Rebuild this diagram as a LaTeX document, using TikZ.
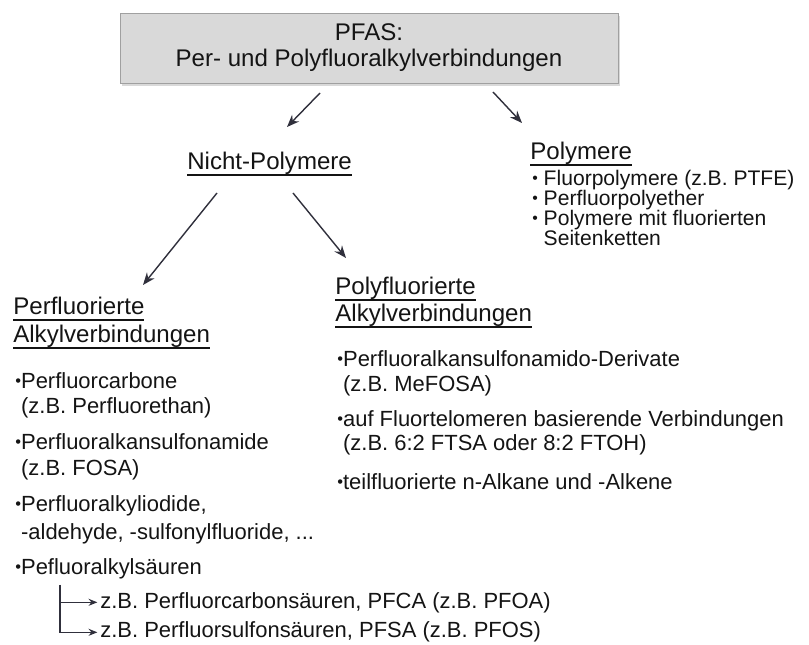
\documentclass[tikz,border=0pt]{standalone}
\usepackage{fontspec}
\setmainfont{Liberation Sans}
\usetikzlibrary{arrows.meta,shadows}
\usepackage{xcolor}

\definecolor{boxgray}{HTML}{D9D9D9}
\definecolor{boxline}{HTML}{A0A0A0}
\definecolor{txt}{HTML}{141414}
\definecolor{pfeilfarbe}{HTML}{30303C}

\newcommand{\ulhead}[1]{\setbox0=\hbox{#1}\rlap{\rule[-3.2pt]{\wd0}{1.1pt}}\box0}
\newcommand{\bul}{\raisebox{0.12em}{\scalebox{0.75}{\textbullet}}}

\begin{document}
\begin{tikzpicture}[x=0.02cm, y=-0.02cm,
    titel/.style={draw=boxline, fill=boxgray, minimum width=9.96cm, minimum height=1.4cm,
        align=center, text=txt, font=\fontsize{13.7}{14.8}\selectfont,
        drop shadow={shadow xshift=1pt, shadow yshift=-1.5pt, opacity=0.3}},
    head/.style={anchor=base west, inner sep=0pt, text=txt, font=\fontsize{13.7}{16}\selectfont},
    item/.style={anchor=base west, inner sep=0pt, text=txt, font=\fontsize{12.5}{15}\selectfont},
    pitem/.style={anchor=base west, inner sep=0pt, text=txt, font=\fontsize{12}{14}\selectfont},
    pfeil/.style={draw=pfeilfarbe, line width=0.8pt, -{Stealth[length=7pt,width=5.5pt]}},
    gabelpfeil/.style={draw=pfeilfarbe, line width=0.7pt, -{Stealth[length=5pt,width=4pt]}, shorten >=1.5pt}]
    \useasboundingbox (0,0) rectangle (809,645);

    % Kopf
    \node[titel] (pfas) at (369,48) {PFAS:\\Per- und Polyfluoralkylverbindungen};

    % Zweite Ebene
    \node[head] (nicht) at (187,170) {\ulhead{Nicht-Polymere}};
    \node[head] (poly) at (530,160) {\ulhead{Polymere}};
    \foreach \y/\t [count=\i] in {186/{\bul\ Fluorpolymere (z.B. PTFE)},
                                  206/{\bul\ Perfluorpolyether},
                                  226/{\bul\ Polymere mit fluorierten},
                                  246/{\phantom{\bul\ }Seitenketten}}
        \node[pitem] (pol\i) at (532,\y) {\t};

    % Pfeile vom Kopf
    \coordinate (k1) at (320,93);
    \coordinate (k2) at (287,127);
    \coordinate (k3) at (493,92);
    \coordinate (k4) at (522,123);
    \draw[pfeil] (k1) -- (k2);
    \draw[pfeil] (k3) -- (k4);

    % Pfeile von Nicht-Polymere
    \coordinate (n1) at (217,193);
    \coordinate (n2) at (143,285);
    \coordinate (n3) at (293,193);
    \coordinate (n4) at (346,258);
    \draw[pfeil] (n1) -- (n2);
    \draw[pfeil] (n3) -- (n4);

    % Perfluorierte Alkylverbindungen
    \node[head] (perf1) at (13,315) {\ulhead{Perfluorierte}};
    \node[head] (perf2) at (13,343) {\ulhead{Alkylverbindungen}};
    \foreach \y/\t [count=\i] in {389/{\bul Perfluorcarbone},
                                  414/{\phantom{\bul}(z.B. Perfluorethan)},
                                  450/{\bul Perfluoralkansulfonamide},
                                  476/{\phantom{\bul}(z.B. FOSA)},
                                  512/{\bul Perfluoralkyliodide,},
                                  540/{\phantom{\bul}-aldehyde, -sulfonylfluoride, ...},
                                  575/{\bul Pefluoralkylsäuren}}
        \node[item] (per\i) at (15,\y) {\t};
    \node[item] (zb1) at (100,608) {z.B. Perfluorcarbonsäuren, PFCA (z.B. PFOA)};
    \node[item] (zb2) at (100,638) {z.B. Perfluorsulfonsäuren, PFSA (z.B. PFOS)};
    \coordinate (gabel) at (60,585);
    \draw[gabelpfeil] (gabel) |- (zb1.west);
    \draw[gabelpfeil] (gabel) |- (zb2.west);

    % Polyfluorierte Alkylverbindungen
    \node[head] (polyf1) at (335,295) {\ulhead{Polyfluorierte}};
    \node[head] (polyf2) at (335,322) {\ulhead{Alkylverbindungen}};
    \foreach \y/\t [count=\i] in {367/{\bul Perfluoralkansulfonamido-Derivate},
                                  392/{\phantom{\bul}(z.B. MeFOSA)},
                                  427/{\bul auf Fluortelomeren basierende Verbindungen},
                                  451/{\phantom{\bul}(z.B. 6:2 FTSA oder 8:2 FTOH)},
                                  490/{\bul teilfluorierte n-Alkane und -Alkene}}
        \node[item] (pol\i) at (337,\y) {\t};
\end{tikzpicture}
\end{document}
